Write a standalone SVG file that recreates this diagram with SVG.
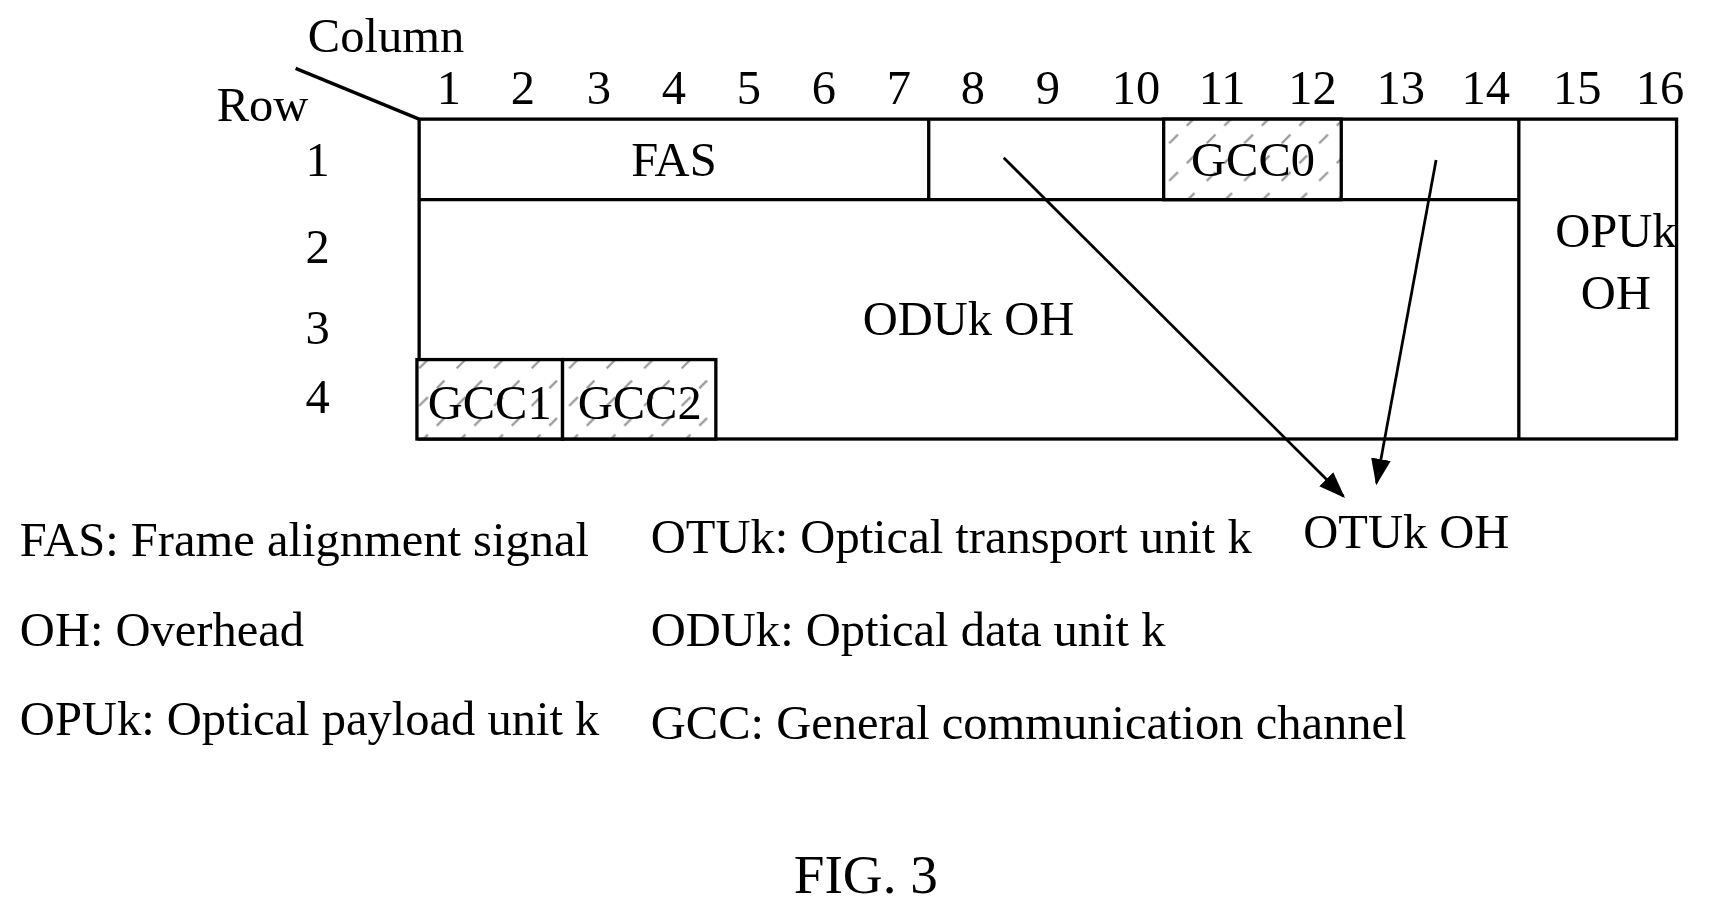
<svg xmlns="http://www.w3.org/2000/svg" width="1728" height="910" viewBox="0 0 1728 910">
<style>
text{font-family:"Liberation Serif","Times New Roman",serif;font-size:44px;fill:#000}
.c{text-anchor:middle}
.ln{stroke:#000;stroke-width:3;fill:none}
.hf{stroke:#000;stroke-width:3}
</style>
<defs>
<pattern id="h" width="34" height="34" patternUnits="userSpaceOnUse">
<rect width="34" height="34" fill="#fff"/>
<path d="M6 28 L14 20 M22 12 L29 5" stroke="#999" stroke-width="2"/>
</pattern>
<marker id="ab" markerWidth="24" markerHeight="24" refX="22" refY="12" orient="auto" markerUnits="userSpaceOnUse">
<path d="M0 3 L24 12 L0 21 Z" fill="#000"/>
</marker>
</defs>
<rect width="1728" height="910" fill="#fff"/>
<g transform="scale(1.103)">
<g id="headers">
<text x="350" y="47" class="c">Column</text>
<text x="238" y="110" class="c">Row</text>
<line x1="268" y1="62" x2="380" y2="108" class="ln"/>
<text x="407" y="94" class="c">1</text><text x="474" y="94" class="c">2</text><text x="543" y="94" class="c">3</text><text x="611" y="94" class="c">4</text><text x="679" y="94" class="c">5</text><text x="747" y="94" class="c">6</text><text x="815" y="94" class="c">7</text><text x="882" y="94" class="c">8</text><text x="950" y="94" class="c">9</text><text x="1030" y="94" class="c">10</text><text x="1108" y="94" class="c">11</text><text x="1190" y="94" class="c">12</text><text x="1270" y="94" class="c">13</text><text x="1347" y="94" class="c">14</text><text x="1430" y="94" class="c">15</text><text x="1505" y="94" class="c">16</text>
<text x="288" y="160" class="c">1</text><text x="288" y="238" class="c">2</text><text x="288" y="312" class="c">3</text><text x="288" y="374" class="c">4</text>
</g>
<g id="frame">
<rect x="380" y="108" width="1140" height="290" class="ln"/>
<line x1="380" y1="181" x2="1377" y2="181" class="ln"/>
<line x1="842" y1="108" x2="842" y2="181" class="ln"/>
<line x1="1377" y1="108" x2="1377" y2="398" class="ln"/>
</g>
<g id="fas"><text x="611" y="160" class="c">FAS</text></g>
<g id="gcc0"><rect x="1055" y="108" width="161" height="73" fill="url(#h)" class="hf"/><text x="1136" y="160" class="c">GCC0</text></g>
<g id="oduk"><text x="878" y="304" class="c">ODUk OH</text></g>
<g id="opuk"><text x="1465" y="224" class="c">OPUk</text><text x="1465" y="280" class="c">OH</text></g>
<g id="gcc1"><rect x="378" y="326" width="132" height="72" fill="url(#h)" class="hf"/><text x="444" y="380" class="c">GCC1</text></g>
<g id="gcc2"><rect x="510" y="326" width="139" height="72" fill="url(#h)" class="hf"/><text x="580" y="380" class="c">GCC2</text></g>
<g id="connectors">
<line x1="910" y1="143" x2="1218" y2="450" stroke="#000" stroke-width="2.5" marker-end="url(#ab)"/>
<line x1="1302" y1="145" x2="1248" y2="438" stroke="#000" stroke-width="2.5" marker-end="url(#ab)"/>
</g>
<g id="otuk"><text x="1275" y="497" class="c">OTUk OH</text></g>
<g id="legend">
<text x="18" y="504">FAS: Frame alignment signal</text>
<text x="18" y="586">OH: Overhead</text>
<text x="18" y="666">OPUk: Optical payload unit k</text>
<text x="590" y="501">OTUk: Optical transport unit k</text>
<text x="590" y="586">ODUk: Optical data unit k</text>
<text x="590" y="670">GCC: General communication channel</text>
</g>
<text x="785" y="810" class="c" style="font-size:50px">FIG. 3</text>
</g>
</svg>
